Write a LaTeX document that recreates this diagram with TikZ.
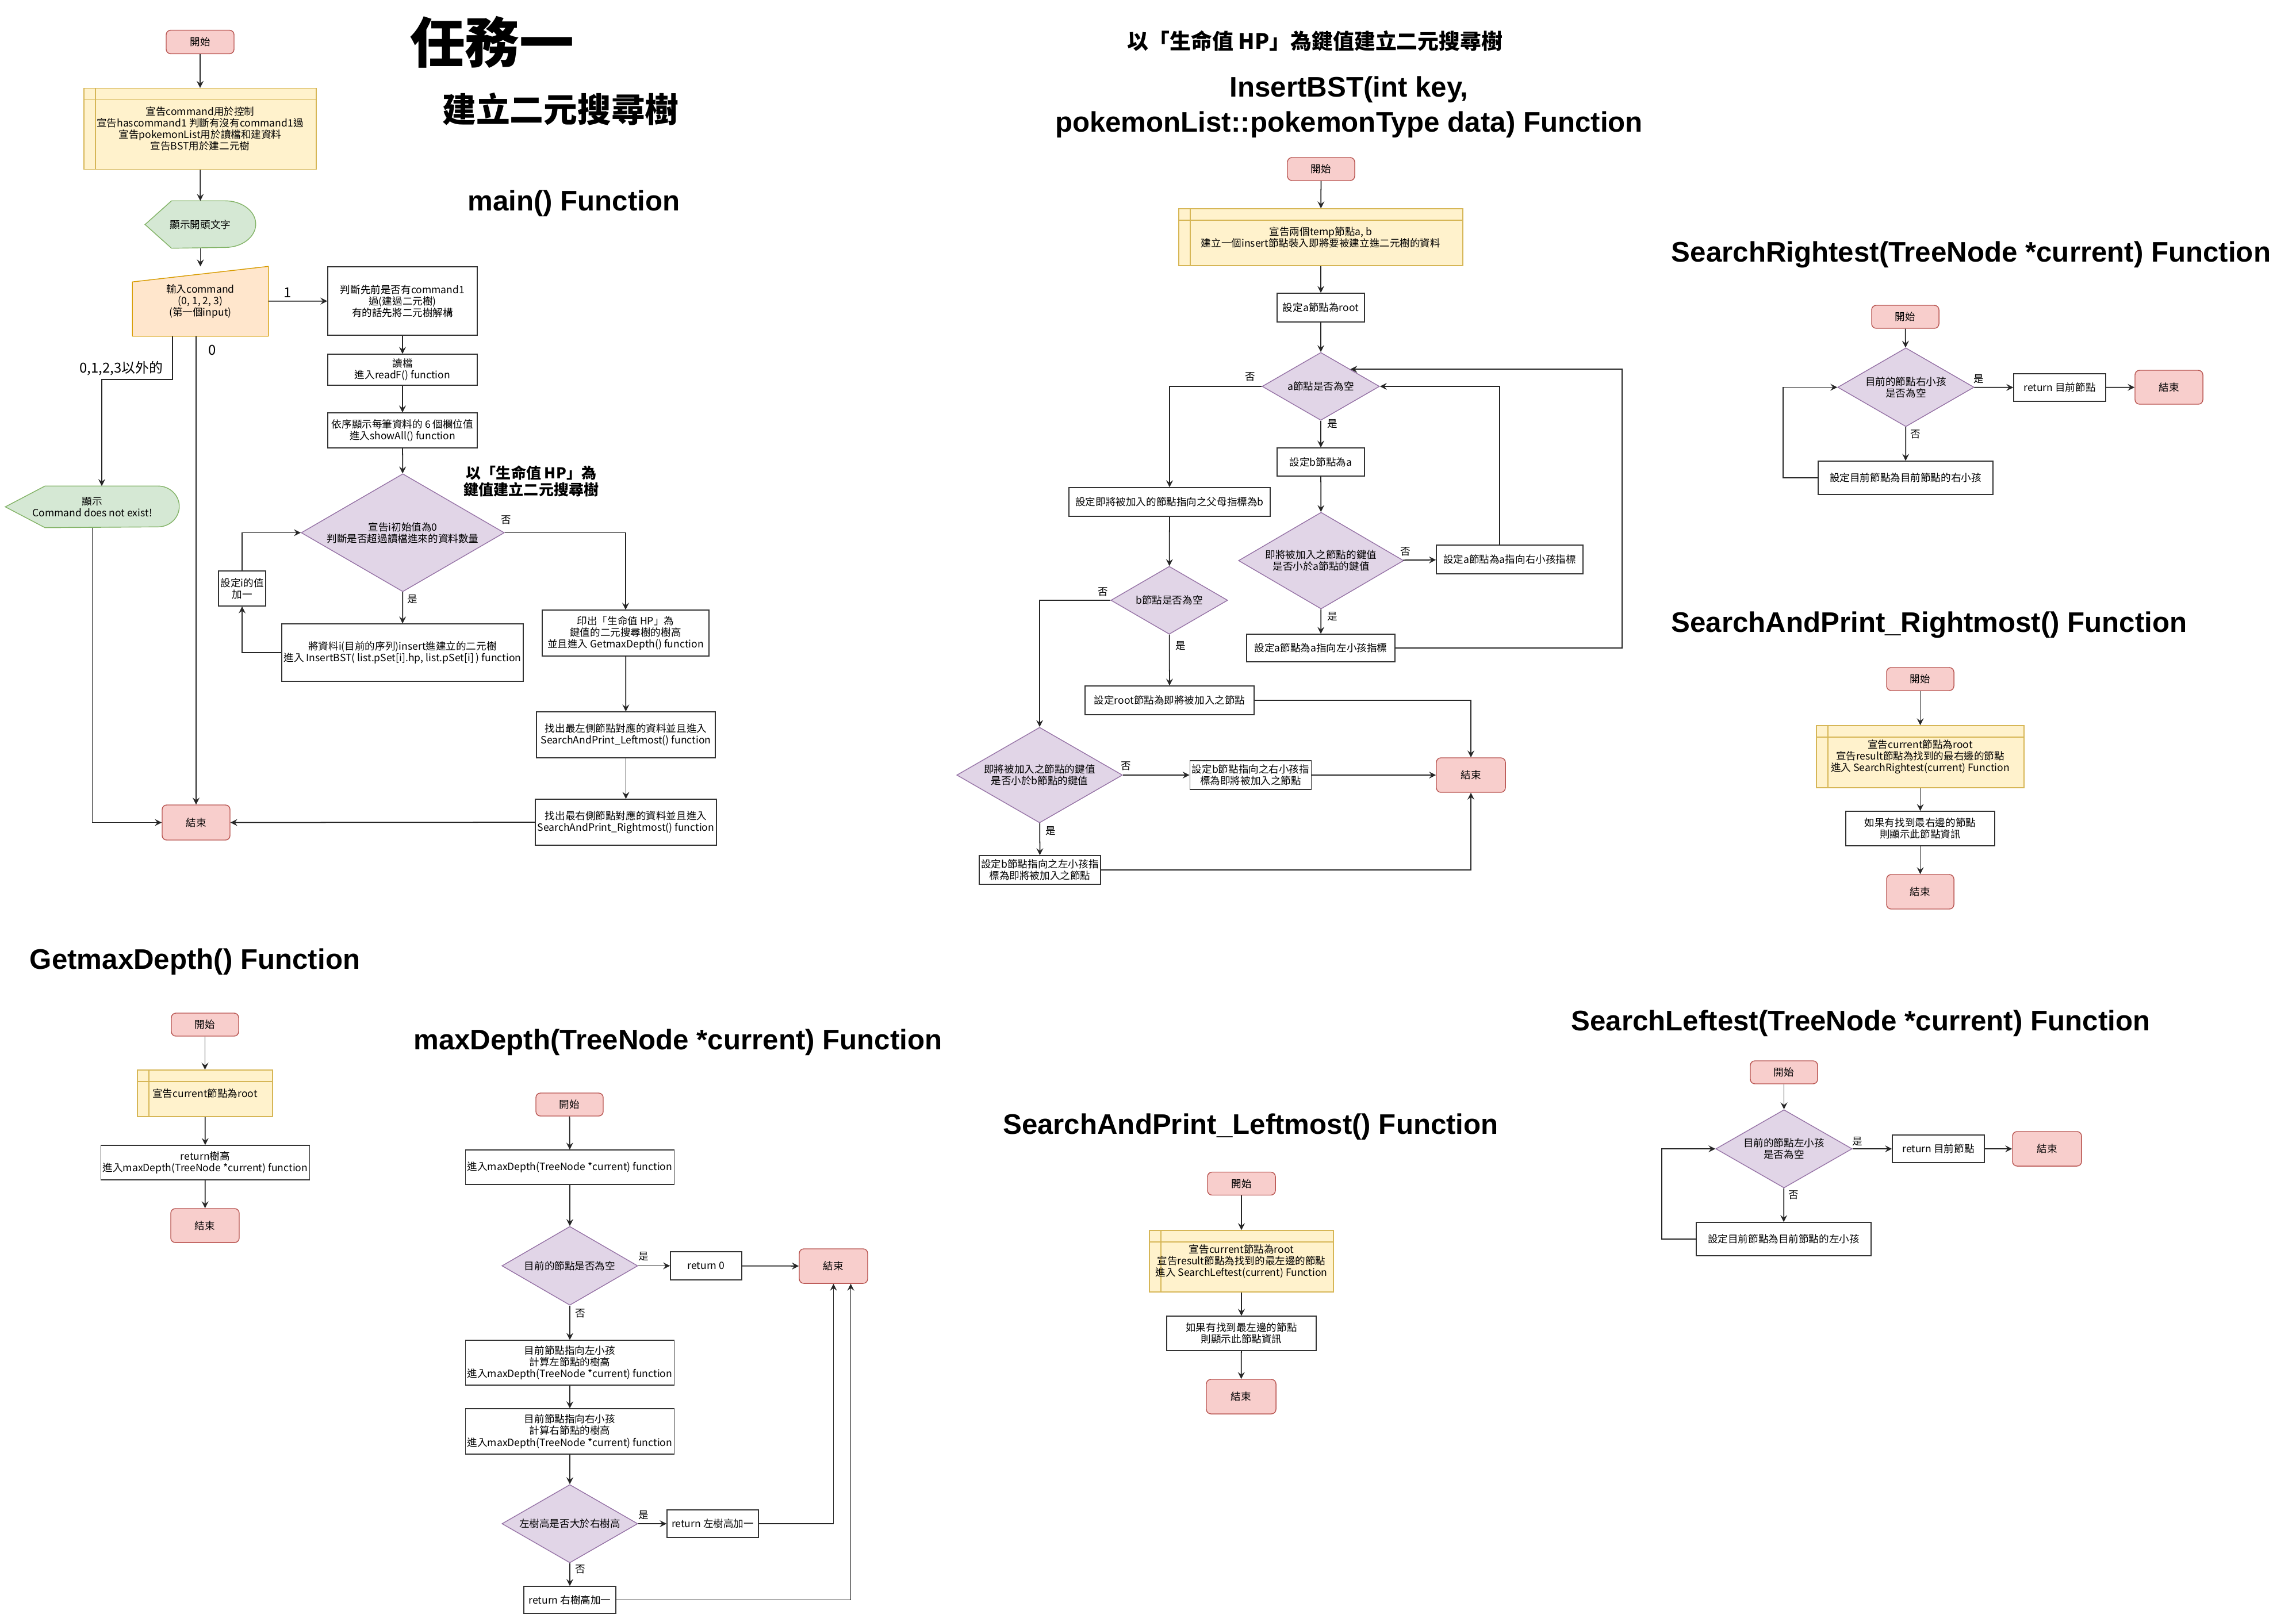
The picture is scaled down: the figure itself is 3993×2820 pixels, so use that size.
\documentclass[tikz,border=0pt]{standalone}
\usepackage{fontspec}
\setmainfont{Noto Sans CJK TC}
\newfontfamily\titlefont{Liberation Sans}
\usepackage{xcolor}
\usepackage{tikz}
\usetikzlibrary{shapes, arrows, positioning, calc, backgrounds}

\definecolor{termfill}{HTML}{F8CECC}
\definecolor{termline}{HTML}{B85450}
\definecolor{storefill}{HTML}{FFF2CC}
\definecolor{storeline}{HTML}{D6B656}
\definecolor{dispfill}{HTML}{D5E8D4}
\definecolor{displine}{HTML}{82B366}
\definecolor{inputfill}{HTML}{FFE6CC}
\definecolor{inputline}{HTML}{D79B00}
\definecolor{decfill}{HTML}{E1D5E7}
\definecolor{decline}{HTML}{9673A6}

\tikzset{
  txt/.style={font=\fontsize{5}{5.7}\selectfont, align=center, inner sep=1pt},
  dims/.style 2 args={minimum width=#1cm, minimum height=#2cm},
  term/.style={txt, draw=termline, fill=termfill, rounded corners=0.08cm, line width=0.4pt},
  store/.style={txt, draw=storeline, fill=storefill, line width=0.4pt,
    path picture={\draw[storeline, line width=0.4pt]
      ([xshift=0.2cm]path picture bounding box.north west) -- ([xshift=0.2cm]path picture bounding box.south west)
      ([yshift=-0.2cm]path picture bounding box.north west) -- ([yshift=-0.2cm]path picture bounding box.north east);}},
  proc/.style={txt, draw=black!80, fill=white, line width=0.4pt},
  decide/.style={txt, diamond, aspect=1.73, draw=decline, fill=decfill, line width=0.4pt, inner sep=0pt},
  bare/.style={txt},
  lbl/.style={txt, inner sep=0pt},
  biglbl/.style={font=\fontsize{6.8}{8}\selectfont, inner sep=0pt},
  heading/.style={font=\titlefont\bfseries\fontsize{14}{17.4}\selectfont, align=center, inner sep=0pt},
  arr/.style={->, line width=0.5pt, draw=black!85},
  wire/.style={line width=0.5pt, draw=black!85},
}

% display shape behind a bare node: node, left inset, x radius, y radius
\newcommand{\dispshape}[4]{%
  \begin{scope}[on background layer]
    \draw[draw=displine, fill=dispfill, line width=0.4pt] (#1.west) -- ([xshift=#2]#1.north west)
      -- ([xshift=-#3]#1.north east) arc[start angle=90, end angle=-90, x radius=#3, y radius=#4]
      -- ([xshift=#2]#1.south west) -- cycle;
  \end{scope}}
% manual input shape behind a bare node: node, drop of the top left corner
\newcommand{\inshape}[2]{%
  \begin{scope}[on background layer]
    \draw[draw=inputline, fill=inputfill, line width=0.4pt] (#1.south west) -- ([yshift=-#2]#1.north west)
      -- (#1.north east) -- (#1.south east) -- cycle;
  \end{scope}}

\begin{document}
\begin{tikzpicture}[x=0.01cm, y=0.01cm, >=stealth]
\useasboundingbox (0,0) rectangle (3993,-2820);
\begin{scope}[on background layer]
\fill[white] (0,0) rectangle (3993,-2820);
\end{scope}

% Headings
\node[font=\bfseries\fontsize{27}{30}\selectfont, inner sep=0pt] (task) at (856,-73) {任務一};
\node[font=\bfseries\fontsize{16.7}{19}\selectfont, inner sep=0pt] (build) at (975,-190) {建立二元搜尋樹};
\node[heading] (maintit) at (998,-354) {main() Function};
\node[font=\bfseries\fontsize{7.4}{8}\selectfont, align=center, inner sep=0pt] (hpnote) at (924,-837) {以「生命值 HP」為\\鍵值建立二元搜尋樹};
\node[font=\bfseries\fontsize{10.5}{12}\selectfont, inner sep=0pt] (hphead) at (2287,-71) {以「生命值 HP」為鍵值建立二元搜尋樹};
\node[heading] (instit) at (2346,-186) {InsertBST(int key,\\pokemonList::pokemonType data) Function};
\node[heading] (rtit) at (3428,-443) {SearchRightest(TreeNode *current) Function};
\node[heading] (rmtit) at (3355,-1087) {SearchAndPrint\_Rightmost() Function};
\node[heading] (gtit) at (339,-1673) {GetmaxDepth() Function};
\node[heading] (mtit) at (1179,-1813) {maxDepth(TreeNode *current) Function};
\node[heading] (lmtit) at (2175,-1960) {SearchAndPrint\_Leftmost() Function};
\node[heading] (ltit) at (3236,-1780) {SearchLeftest(TreeNode *current) Function};

% main() Function
\node[term, dims={1.18}{0.41}] (start1) at (348,-73) {開始};
\node[store, dims={4.04}{1.41}] (decl1) at (348,-224) {宣告command用於控制\\宣告hascommand1 判斷有沒有command1過\\宣告pokemonList用於讀檔和建資料\\宣告BST用於建二元樹};
\node[bare, dims={1.91}{0.81}] (hello) at (348.5,-390.5) {顯示開頭文字};
\node[bare, dims={2.35}{1.2}] (inp) at (348.5,-524) {輸入command\\(0, 1, 2, 3)\\(第一個input)};
\node[proc, dims={2.6}{1.19}] (chk) at (700,-523.5) {判斷先前是否有command1\\過(建過二元樹)\\有的話先將二元樹解構};
\node[proc, dims={2.6}{0.54}] (readf) at (700,-643) {讀檔\\進入readF() function};
\node[proc, dims={2.6}{0.61}] (showall) at (700,-748.5) {依序顯示每筆資料的 6 個欄位值\\進入showAll() function};
\node[decide, dims={3.53}{2.05}] (loop1) at (700.5,-926.5) {宣告i初始值為0\\判斷是否超過讀檔進來的資料數量};
\node[proc, dims={4}{1}] (insert1) at (700,-1135) {將資料i(目前的序列)insert進建立的二元樹\\進入 InsertBST( list.pSet[i].hp, list.pSet[i] ) function};
\node[proc, dims={0.78}{0.61}] (inc1) at (421,-1023.5) {設定i的值\\加一};
\node[proc, dims={2.9}{0.8}] (height1) at (1088,-1101) {印出「生命值 HP」為\\鍵值的二元搜尋樹的樹高\\並且進入 GetmaxDepth() function};
\node[proc, dims={3.11}{0.8}] (leftmost1) at (1088.5,-1278) {找出最左側節點對應的資料並且進入\\SearchAndPrint\_Leftmost() function};
\node[proc, dims={3.11}{0.8}] (rightmost1) at (1088.5,-1430) {找出最右側節點對應的資料並且進入\\SearchAndPrint\_Rightmost() function};
\node[term, dims={1.18}{0.61}] (end1) at (341,-1430.5) {結束};
\node[bare, dims={3.01}{0.71}] (nocmd) at (160.5,-881.5) {顯示\\Command does not exist!};
\dispshape{hello}{0.46cm}{0.53cm}{0.405cm}
\inshape{inp}{0.27cm}
\dispshape{nocmd}{0.69cm}{0.37cm}{0.355cm}

\node[biglbl] (one) at (500,-509) {1};
\node[biglbl] (zero) at (369,-609) {0};
\node[biglbl] (other) at (211,-641) {0,1,2,3以外的};
\node[lbl] (no1) at (880,-904) {否};
\node[lbl] (yes1) at (717,-1042) {是};

\draw[arr] (start1) -- (decl1);
\draw[arr] (decl1) -- (hello);
\draw[arr] (hello) -- (inp);
\draw[arr] (inp) -- (chk);
\draw[arr] (chk) -- (readf);
\draw[arr] (readf) -- (showall);
\draw[arr] (showall) -- (loop1);
\draw[arr] (loop1) -- (insert1);
\draw[arr] (insert1.west) -| (inc1.south);
\draw[arr] (inc1.north) |- (loop1.west);
\draw[arr] (loop1.east) -| (height1.north);
\draw[arr] (height1) -- (leftmost1);
\draw[arr] (leftmost1) -- (rightmost1);
\draw[arr] (rightmost1.west) -- (end1.east);
\draw[arr] ([xshift=-0.485cm]inp.south) -- ++(0,-75) -| ([xshift=0.165cm]nocmd.north);
\draw[arr] (end1.north |- inp.south) -- (end1.north);
\draw[arr] (nocmd.south) |- (end1.west);

% InsertBST Function
\node[term, dims={1.17}{0.4}] (start2) at (2297.5,-294) {開始};
\node[store, dims={4.94}{0.99}] (decl2) at (2297,-412.5) {宣告兩個temp節點a, b\\建立一個insert節點裝入即將要被建立進二元樹的資料};
\node[proc, dims={1.52}{0.5}] (seta) at (2297,-535) {設定a節點為root};
\node[decide, dims={2.04}{1.18}] (anull) at (2297,-672) {a節點是否為空};
\node[proc, dims={1.52}{0.49}] (setb) at (2297,-803.5) {設定b節點為a};
\node[decide, dims={2.87}{1.68}] (lessa) at (2297.5,-975) {即將被加入之節點的鍵值\\是否小於a節點的鍵值};
\node[proc, dims={2.55}{0.5}] (goright) at (2625.5,-973) {設定a節點為a指向右小孩指標};
\node[proc, dims={2.58}{0.48}] (goleft) at (2297,-1127) {設定a節點為a指向左小孩指標};
\node[proc, dims={3.5}{0.5}] (setpar) at (2034,-873) {設定即將被加入的節點指向之父母指標為b};
\node[decide, dims={2.03}{1.18}] (bnull) at (2033.5,-1044) {b節點是否為空};
\node[proc, dims={2.94}{0.5}] (setroot) at (2034,-1218) {設定root節點為即將被加入之節點};
\node[term, dims={1.2}{0.6}] (end2) at (2558,-1348) {結束};
\node[decide, dims={2.88}{1.66}] (lessb) at (1808,-1348) {即將被加入之節點的鍵值\\是否小於b節點的鍵值};
\node[proc, dims={2.1}{0.5}] (setright) at (2175,-1348) {設定b節點指向之右小孩指\\標為即將被加入之節點};
\node[proc, dims={2.09}{0.5}] (setleft) at (1808.5,-1513) {設定b節點指向之左小孩指\\標為即將被加入之節點};

\node[lbl] (no2a) at (2174,-655) {否};
\node[lbl] (yes2a) at (2317,-737) {是};
\node[lbl] (no2b) at (2444,-959) {否};
\node[lbl] (yes2b) at (2317,-1072) {是};
\node[lbl] (no2c) at (1918,-1029) {否};
\node[lbl] (yes2c) at (2053,-1123) {是};
\node[lbl] (no2d) at (1958,-1332) {否};
\node[lbl] (yes2d) at (1827,-1445) {是};

\draw[arr] (start2) -- (decl2);
\draw[arr] (decl2) -- (seta);
\draw[arr] (seta) -- (anull);
\draw[arr] (anull) -- (setb);
\draw[arr] (setb) -- (lessa);
\draw[arr] (lessa) -- (goright);
\draw[arr] (lessa) -- (goleft);
\draw[arr] (goleft.east) -- ++(394,0) |- (anull.north east);
\draw[arr] ([xshift=-0.175cm]goright.north) |- (anull.east);
\draw[arr] (anull.west) -| (setpar.north);
\draw[arr] (setpar) -- (bnull);
\draw[arr] (bnull) -- (setroot);
\draw[arr] (bnull.west) -| (lessb.north);
\draw[arr] (setroot.east) -| (end2.north);
\draw[arr] (lessb) -- (setright);
\draw[arr] (setright) -- (end2);
\draw[arr] (lessb) -- (setleft);
\draw[arr] (setleft.east) -| (end2.south);

% SearchRightest Function
\node[term, dims={1.17}{0.4}] (start3) at (3313.5,-551) {開始};
\node[decide, dims={2.37}{1.37}] (rnull) at (3314.5,-673.5) {目前的節點右小孩\\是否為空};
\node[proc, dims={1.6}{0.48}] (retr) at (3582,-674) {return 目前節點};
\node[term, dims={1.18}{0.59}] (end3) at (3772,-673.5) {結束};
\node[proc, dims={3.04}{0.58}] (nextr) at (3314,-831) {設定目前節點為目前節點的右小孩};
\node[lbl] (yes3) at (3441,-659) {是};
\node[lbl] (no3) at (3331,-755) {否};

\draw[arr] (start3) -- (rnull);
\draw[arr] (rnull) -- (retr);
\draw[arr] (retr) -- (end3);
\draw[arr] (rnull) -- (nextr);
\draw[arr] (nextr.west) -- ++(-60,0) |- (rnull.west);

% SearchAndPrint_Rightmost Function
\node[term, dims={1.17}{0.4}] (start4) at (3339.5,-1181) {開始};
\node[store, dims={3.61}{1.08}] (decl4) at (3339.5,-1316) {宣告current節點為root\\宣告result節點為找到的最右邊的節點\\進入 SearchRightest(current) Function};
\node[proc, dims={2.59}{0.6}] (show4) at (3339.5,-1441) {如果有找到最右邊的節點\\則顯示此節點資訊};
\node[term, dims={1.17}{0.6}] (end4) at (3339.5,-1551) {結束};

\draw[arr] (start4) -- (decl4);
\draw[arr] (decl4) -- (show4);
\draw[arr] (show4) -- (end4);

% GetmaxDepth Function
\node[term, dims={1.17}{0.4}] (start5) at (356.5,-1782) {開始};
\node[store, dims={2.35}{0.81}] (decl5) at (356.5,-1901.5) {宣告current節點為root};
\node[proc, dims={3.5}{0.6}] (ret5) at (357,-2022) {return樹高\\進入maxDepth(TreeNode *current) function};
\node[term, dims={1.19}{0.59}] (end5) at (356.5,-2131.5) {結束};

\draw[arr] (start5) -- (decl5);
\draw[arr] (decl5) -- (ret5);
\draw[arr] (ret5) -- (end5);

% maxDepth Function
\node[term, dims={1.17}{0.4}] (start6) at (990.5,-1921) {開始};
\node[proc, dims={3.5}{0.6}] (enter6) at (991,-2030) {進入maxDepth(TreeNode *current) function};
\node[decide, dims={2.36}{1.37}] (null6) at (991,-2201.5) {目前的節點是否為空};
\node[proc, dims={1.24}{0.49}] (ret0) at (1228,-2201.5) {return 0};
\node[term, dims={1.19}{0.6}] (end6) at (1449.5,-2202) {結束};
\node[proc, dims={3.5}{0.78}] (left6) at (991,-2370) {目前節點指向左小孩\\計算左節點的樹高\\進入maxDepth(TreeNode *current) function};
\node[proc, dims={3.5}{0.79}] (right6) at (991,-2489.5) {目前節點指向右小孩\\計算右節點的樹高\\進入maxDepth(TreeNode *current) function};
\node[decide, dims={2.36}{1.36}] (cmp6) at (991,-2650) {左樹高是否大於右樹高};
\node[proc, dims={1.59}{0.48}] (retl6) at (1239.5,-2650) {return 左樹高加一};
\node[proc, dims={1.6}{0.47}] (retr6) at (991,-2782.5) {return 右樹高加一};
\node[lbl] (yes6a) at (1119,-2185) {是};
\node[lbl] (no6a) at (1009,-2284) {否};
\node[lbl] (yes6b) at (1119,-2635) {是};
\node[lbl] (no6b) at (1009,-2729) {否};

\draw[arr] (start6) -- (enter6);
\draw[arr] (enter6) -- (null6);
\draw[arr] (null6) -- (ret0);
\draw[arr] (ret0) -- (end6);
\draw[arr] (null6) -- (left6);
\draw[arr] (left6) -- (right6);
\draw[arr] (right6) -- (cmp6);
\draw[arr] (cmp6) -- (retl6);
\draw[arr] (cmp6) -- (retr6);
\draw[arr] (retl6.east) -| (end6.south);
\draw[arr] (retr6.east) -| ([xshift=0.3cm]end6.south);

% SearchAndPrint_Leftmost Function
\node[term, dims={1.18}{0.4}] (start7) at (2159,-2058.5) {開始};
\node[store, dims={3.2}{1.07}] (decl7) at (2159,-2193.5) {宣告current節點為root\\宣告result節點為找到的最左邊的節點\\進入 SearchLeftest(current) Function};
\node[proc, dims={2.6}{0.6}] (show7) at (2159,-2319) {如果有找到最左邊的節點\\則顯示此節點資訊};
\node[term, dims={1.21}{0.6}] (end7) at (2158.5,-2429) {結束};

\draw[arr] (start7) -- (decl7);
\draw[arr] (decl7) -- (show7);
\draw[arr] (show7) -- (end7);

% SearchLeftest Function
\node[term, dims={1.17}{0.4}] (start8) at (3102.5,-1865) {開始};
\node[decide, dims={2.37}{1.36}] (lnull) at (3102.5,-1998) {目前的節點左小孩\\是否為空};
\node[proc, dims={1.6}{0.48}] (retl8) at (3371,-1998) {return 目前節點};
\node[term, dims={1.2}{0.6}] (end8) at (3560,-1998) {結束};
\node[proc, dims={3.04}{0.58}] (nextl) at (3102,-2155) {設定目前節點為目前節點的左小孩};
\node[lbl] (yes8) at (3230,-1985) {是};
\node[lbl] (no8) at (3119,-2078) {否};

\draw[arr] (start8) -- (lnull);
\draw[arr] (lnull) -- (retl8);
\draw[arr] (retl8) -- (end8);
\draw[arr] (lnull) -- (nextl);
\draw[arr] (nextl.west) -- ++(-59,0) |- (lnull.west);
\end{tikzpicture}
\end{document}
